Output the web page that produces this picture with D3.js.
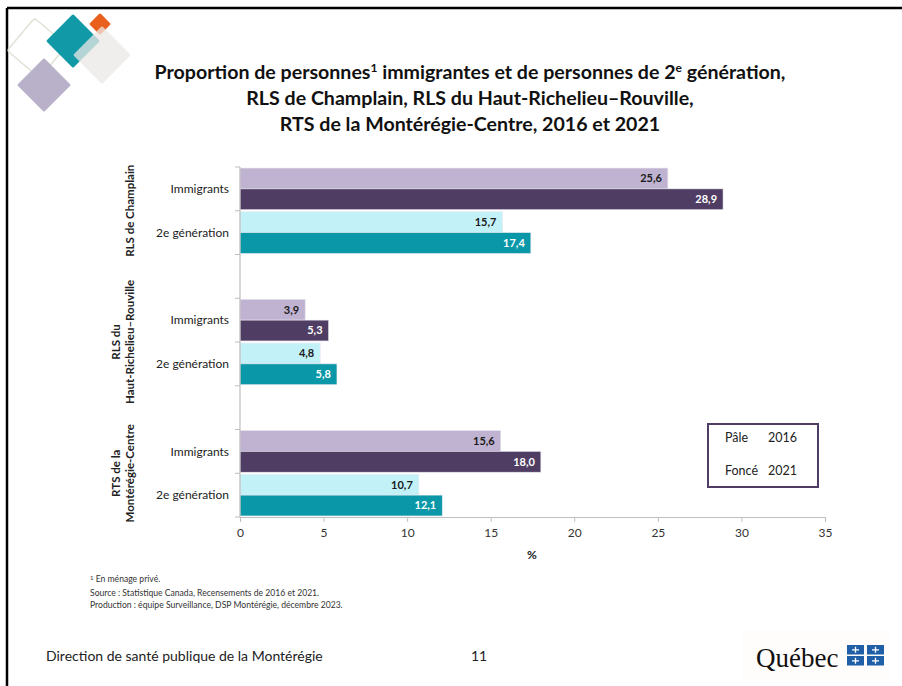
<!DOCTYPE html>
<html>
<head>
<meta charset="utf-8">
<script src="https://cdn.jsdelivr.net/npm/d3@7"></script>
<style>
  html, body { margin: 0; padding: 0; background: #fff; }
  svg { display: block; font-family: Lato, "Open Sans", sans-serif; }
</style>
</head>
<body>
<svg id="slide" width="902" height="686"></svg>
<script>
// data
var regions = ["RLS de Champlain", "RLS du Haut-Richelieu–Rouville", "RTS de la Montérégie-Centre"];
var regionLines = [["RLS de Champlain"], ["RLS du", "Haut-Richelieu–Rouville"], ["RTS de la", "Montérégie-Centre"]];
var categories = ["Immigrants", "2e génération"];
var years = ["2016", "2021"];
var immigrants2016 = [25.6, 3.9, 15.6];
var immigrants2021 = [28.9, 5.3, 18.0];
var generation2016 = [15.7, 4.8, 10.7];
var generation2021 = [17.4, 5.8, 12.1];
var xTicks = [0, 5, 10, 15, 20, 25, 30, 35];

var colors = {
  "Immigrants": {"2016": "#c0b3d1", "2021": "#4f3d63"},
  "2e génération": {"2016": "#c3f1f8", "2021": "#0a98a9"}
};

var svg = d3.select("#slide");

// frame lines of the slide
svg.append("line").attr("x1", 7).attr("x2", 902).attr("y1", 8).attr("y2", 8)
  .attr("stroke", "#000").attr("stroke-width", 2.5);
svg.append("line").attr("x1", 7).attr("x2", 7).attr("y1", 8).attr("y2", 686)
  .attr("stroke", "#000").attr("stroke-width", 2.5);

// corner logo, rotated squares
var logo = svg.append("g");
function diamond(cx, cy, half, fill, opts) {
  opts = opts || {};
  var s = half * Math.SQRT2;
  return logo.append("rect")
    .attr("x", -s / 2).attr("y", -s / 2).attr("width", s).attr("height", s)
    .attr("rx", opts.rx || 1.5)
    .attr("transform", "translate(" + cx + "," + cy + ") rotate(" + (opts.rot || 45) + ")")
    .attr("fill", fill)
    .attr("fill-opacity", opts.op || 1)
    .attr("stroke", opts.stroke || "none")
    .attr("stroke-width", opts.sw || 0);
}
diamond(37, 48, 30, "none", {stroke: "#dfe3d6", sw: 1.5, rot: 40, rx: 3});
diamond(44, 85, 27, "#b9b1c9");
diamond(73, 41, 27, "#1199a8");
diamond(100, 24, 11, "#e8601c");
diamond(102, 55, 29, "#ebe8e6", {op: 0.75});

// title
var title = svg.append("text")
  .attr("text-anchor", "middle")
  .attr("font-weight", "bold")
  .attr("font-size", 19.6)
  .attr("fill", "#111");
var t1 = title.append("tspan").attr("x", 470).attr("y", 79);
t1.append("tspan").text("Proportion de personnes");
t1.append("tspan").attr("font-size", 12).attr("dy", -7).text("1");
t1.append("tspan").attr("dy", 7).text(" immigrantes et de personnes de 2");
t1.append("tspan").attr("font-size", 12).attr("dy", -7).text("e");
t1.append("tspan").attr("dy", 7).text(" génération,");
title.append("tspan").attr("x", 470).attr("y", 105).text("RLS de Champlain, RLS du Haut-Richelieu–Rouville,");
title.append("tspan").attr("x", 470).attr("y", 131).text("RTS de la Montérégie-Centre, 2016 et 2021");

// slots: two categories per region, an empty slot between regions
var slots = [];
regions.forEach(function(r, i) {
  categories.forEach(function(c) { slots.push(i + "|" + c); });
  if (i < regions.length - 1) slots.push("gap" + i);
});

var x = d3.scaleLinear().domain([0, 35]).range([240, 825]);
var y = d3.scaleBand().domain(slots).range([167, 517]);
var yYear = d3.scaleBand().domain(years).range([0, y.bandwidth()]).paddingOuter(0.05);

var rows = [];
regions.forEach(function(r, i) {
  rows.push({region: i, cat: "Immigrants", year: "2016", v: immigrants2016[i]});
  rows.push({region: i, cat: "Immigrants", year: "2021", v: immigrants2021[i]});
  rows.push({region: i, cat: "2e génération", year: "2016", v: generation2016[i]});
  rows.push({region: i, cat: "2e génération", year: "2021", v: generation2021[i]});
});

var fmt = function(v) { return d3.format(".1f")(v).replace(".", ","); };

// bars
svg.append("g").selectAll("rect")
  .data(rows)
  .enter()
  .append("rect")
  .attr("x", x(0))
  .attr("y", function(d) { return y(d.region + "|" + d.cat) + yYear(d.year); })
  .attr("width", function(d) { return x(d.v) - x(0); })
  .attr("height", yYear.bandwidth())
  .attr("fill", function(d) { return colors[d.cat][d.year]; })
  .attr("stroke", "#e6e6ee")
  .attr("stroke-width", 0.6);

// value labels
svg.append("g").selectAll("text")
  .data(rows)
  .enter()
  .append("text")
  .attr("x", function(d) { return x(d.v) - 6; })
  .attr("y", function(d) { return y(d.region + "|" + d.cat) + yYear(d.year) + yYear.bandwidth() / 2; })
  .attr("dy", "0.35em")
  .attr("text-anchor", "end")
  .attr("font-size", 11)
  .attr("font-weight", "bold")
  .attr("fill", function(d) { return d.year == "2021" ? "#fff" : "#1a1a1a"; })
  .text(function(d) { return fmt(d.v); });

// x axis
var xAxis = svg.append("g")
  .attr("transform", "translate(0,517)")
  .call(d3.axisBottom(x).tickValues(xTicks).tickSize(5).tickPadding(6).tickFormat(d3.format("d")));
xAxis.select(".domain").attr("stroke", "#bfbfbf").attr("stroke-width", 1.2);
xAxis.selectAll(".tick line").attr("stroke", "#bfbfbf");
xAxis.selectAll(".tick text").attr("font-size", 12).attr("fill", "#333").attr("font-family", "Lato, sans-serif");

svg.append("text").attr("x", 532).attr("y", 559).attr("text-anchor", "middle")
  .attr("font-size", 12).attr("font-weight", "bold").attr("fill", "#222").text("%");

// y axis line with ticks at slot boundaries
var yAxisG = svg.append("g");
yAxisG.append("line").attr("x1", x(0)).attr("x2", x(0))
  .attr("y1", y.range()[0]).attr("y2", y.range()[1])
  .attr("stroke", "#bfbfbf").attr("stroke-width", 1.2);
var bounds = slots.map(function(s) { return y(s); }).concat([y.range()[1]]);
yAxisG.selectAll("line.tk").data(bounds).enter().append("line")
  .attr("class", "tk")
  .attr("x1", x(0) - 5).attr("x2", x(0))
  .attr("y1", function(d) { return d; }).attr("y2", function(d) { return d; })
  .attr("stroke", "#bfbfbf");

// category labels
var catSlots = slots.filter(function(s) { return s.indexOf("gap") < 0; });
svg.append("g").selectAll("text")
  .data(catSlots)
  .enter()
  .append("text")
  .attr("x", 229)
  .attr("y", function(s) { return y(s) + y.bandwidth() / 2; })
  .attr("dy", "0.35em")
  .attr("text-anchor", "end")
  .attr("font-size", 12)
  .attr("fill", "#222")
  .text(function(s) { return s.split("|")[1]; });

// region labels (rotated)
regions.forEach(function(r, i) {
  var cy = (y(i + "|" + categories[0]) + y(i + "|" + categories[1]) + y.bandwidth()) / 2;
  var lines = regionLines[i];
  var g = svg.append("text")
    .attr("transform", "translate(" + 130 + "," + cy + ") rotate(-90)")
    .attr("text-anchor", "middle")
    .attr("font-size", 11.5)
    .attr("font-weight", "bold")
    .attr("fill", "#222");
  lines.forEach(function(l, k) {
    g.append("tspan").attr("x", 0)
      .attr("y", (k - (lines.length - 1)) * 14 + 4)
      .text(l);
  });
});

// legend box
svg.append("rect").attr("x", 708).attr("y", 424).attr("width", 110).attr("height", 63)
  .attr("fill", "#fff").attr("stroke", "#4f3d63").attr("stroke-width", 2);
var legendRows = [["Pâle", years[0]], ["Foncé", years[1]]];
legendRows.forEach(function(r, i) {
  svg.append("text").attr("x", 725).attr("y", 442 + i * 33).attr("font-size", 12.5).attr("fill", "#222").text(r[0]);
  svg.append("text").attr("x", 768).attr("y", 442 + i * 33).attr("font-size", 12.5).attr("fill", "#222").text(r[1]);
});

// footnotes
var notes = svg.append("g").attr("font-size", 8.6).attr("fill", "#333");
var n1 = notes.append("text").attr("x", 90).attr("y", 582);
n1.append("tspan").attr("font-size", 6).attr("dy", -2).text("1");
n1.append("tspan").attr("dy", 2).text(" En ménage privé.");
notes.append("text").attr("x", 90).attr("y", 596).text("Source : Statistique Canada, Recensements de 2016 et 2021.");
notes.append("text").attr("x", 90).attr("y", 608).text("Production : équipe Surveillance, DSP Montérégie, décembre 2023.");

// footer
svg.append("text").attr("x", 46).attr("y", 661).attr("font-size", 14).attr("fill", "#222")
  .text("Direction de santé publique de la Montérégie");
svg.append("text").attr("x", 479).attr("y", 661).attr("text-anchor", "middle").attr("font-size", 14).attr("fill", "#222")
  .text("11");

// Québec wordmark
svg.append("rect").attr("x", 742).attr("y", 630).attr("width", 148).attr("height", 50).attr("fill", "#fffdfb");
svg.append("text").attr("x", 756).attr("y", 667).attr("font-family", "Liberation Serif, serif")
  .attr("font-size", 27).attr("fill", "#111").text("Québec");
var flag = svg.append("g").attr("transform", "translate(847,645)");
[[0, 0], [20, 0], [0, 11], [20, 11]].forEach(function(p) {
  flag.append("rect").attr("x", p[0]).attr("y", p[1]).attr("width", 17).attr("height", 9.5).attr("fill", "#1f5fa8");
  flag.append("path")
    .attr("d", "M" + (p[0] + 8.5) + "," + (p[1] + 1.8) + "v6M" + (p[0] + 5) + "," + (p[1] + 4.8) + "h7")
    .attr("stroke", "#fff").attr("stroke-width", 1.3);
});
</script>
</body>
</html>
